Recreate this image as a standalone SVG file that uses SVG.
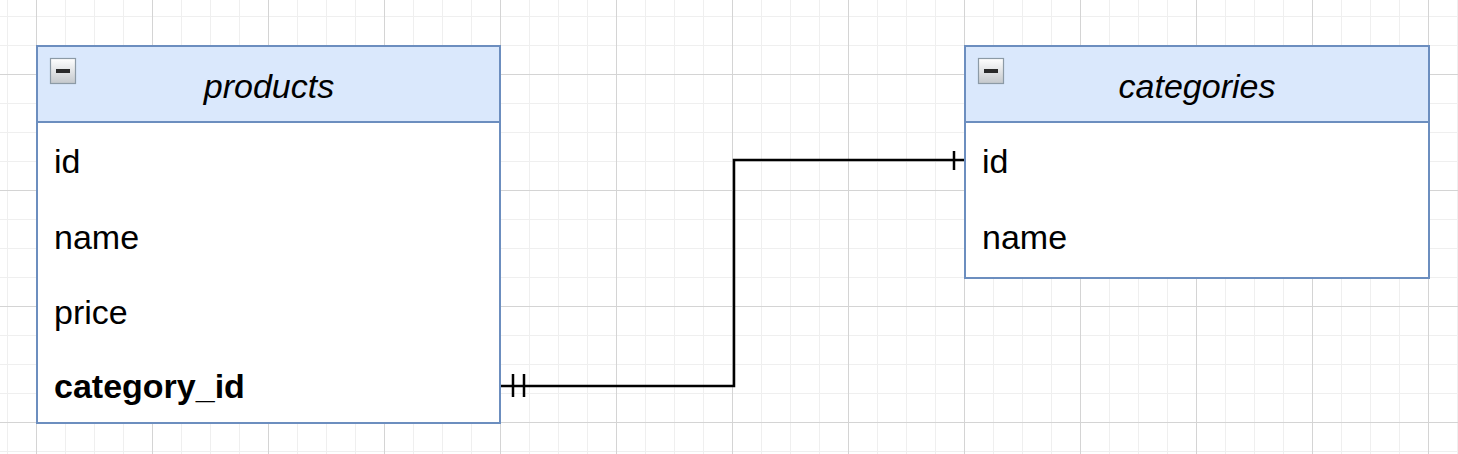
<svg xmlns="http://www.w3.org/2000/svg" width="1458" height="454" viewBox="0 0 1458 454">
<style>
.tbl{fill:#ffffff;stroke:#6c8ebf;stroke-width:2}
.hdr{fill:#dae8fc;stroke:#6c8ebf;stroke-width:2}
.title{font-family:"Liberation Sans",Arial,sans-serif;font-size:34px;font-style:italic;fill:#000;text-anchor:middle}
.row{font-family:"Liberation Sans",Arial,sans-serif;font-size:34px;fill:#000}
.bold{font-weight:bold}
.edge{fill:none;stroke:#000;stroke-width:2.5}
.icon{stroke:#8c9aa6;stroke-width:1.2}
</style>
<defs>
<pattern id="grid" x="36" y="74" width="116" height="116" patternUnits="userSpaceOnUse">
<rect x="29" y="0" width="1" height="116" fill="#efefef"/>
<rect x="58" y="0" width="1" height="116" fill="#efefef"/>
<rect x="87" y="0" width="1" height="116" fill="#efefef"/>
<rect x="0" y="29" width="116" height="1" fill="#efefef"/>
<rect x="0" y="58" width="116" height="1" fill="#efefef"/>
<rect x="0" y="87" width="116" height="1" fill="#efefef"/>
<rect x="0" y="0" width="1" height="116" fill="#d4d4d4"/>
<rect x="0" y="0" width="116" height="1" fill="#d4d4d4"/>
</pattern>
<linearGradient id="ig" x1="0" y1="0" x2="0" y2="1">
<stop offset="0" stop-color="#ffffff"/>
<stop offset="1" stop-color="#c4c8cc"/>
</linearGradient>
<g id="minus">
<rect class="icon" x="0.5" y="0.5" width="25" height="25" fill="url(#ig)"/>
<rect x="6" y="11" width="14" height="4" fill="#2a2a2a"/>
</g>
</defs>
<rect width="1458" height="454" fill="#ffffff"/>
<rect width="1458" height="454" fill="url(#grid)"/>

<g id="connectors">
<path class="edge" d="M501 386 H734 V160 H964"/>
<path d="M513 374 V397 M524 374 V397" stroke="#000" stroke-width="2.5" fill="none"/>
<path d="M954 151 V170" stroke="#000" stroke-width="2.5" fill="none"/>
</g>

<g id="products">
<rect class="tbl" x="37" y="46" width="463" height="377"/>
<rect class="hdr" x="37" y="46" width="463" height="76"/>
<use href="#minus" x="50" y="58"/>
<text class="title" x="269" y="98">products</text>
<text class="row" x="54" y="173">id</text>
<text class="row" x="54" y="249">name</text>
<text class="row" x="54" y="324">price</text>
<text class="row bold" x="54" y="398">category_id</text>
</g>

<g id="categories">
<rect class="tbl" x="965" y="46" width="464" height="232"/>
<rect class="hdr" x="965" y="46" width="464" height="76"/>
<use href="#minus" x="978" y="58"/>
<text class="title" x="1197" y="98">categories</text>
<text class="row" x="982" y="173">id</text>
<text class="row" x="982" y="249">name</text>
</g>
</svg>
